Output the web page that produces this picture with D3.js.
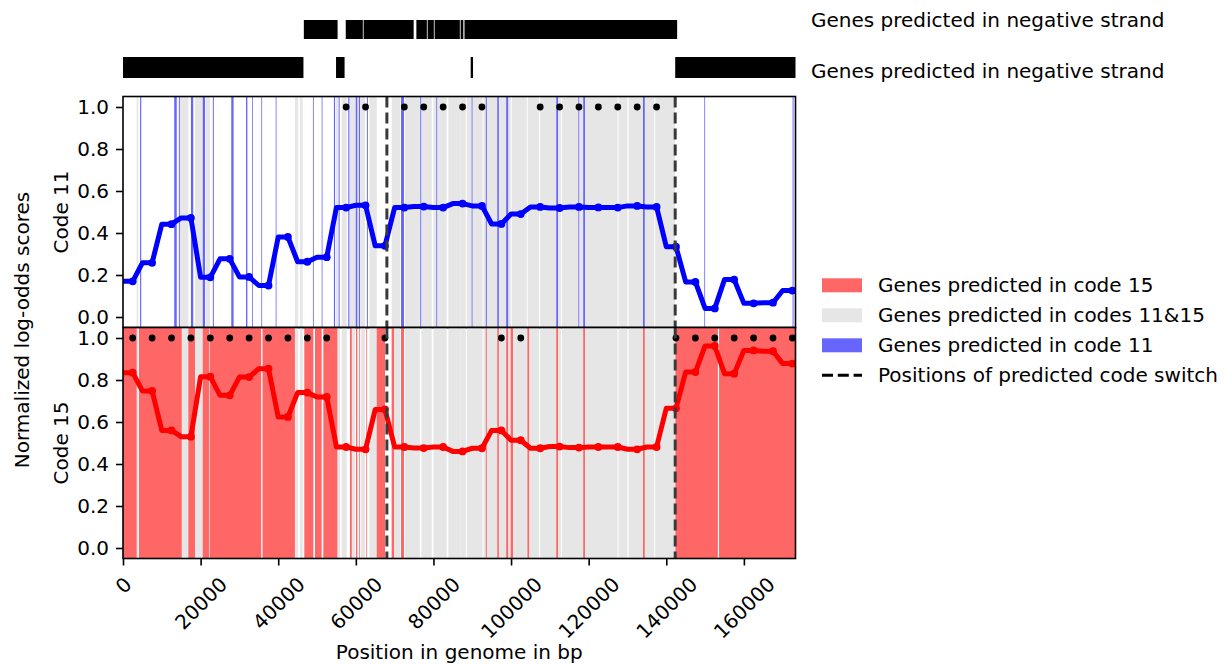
<!DOCTYPE html>
<html>
<head>
<meta charset="utf-8">
<script src="https://cdn.jsdelivr.net/npm/d3@7"></script>
<style>
  body { margin: 0; background: #ffffff; }
  svg { display: block; font-family: "DejaVu Sans", sans-serif; }
</style>
</head>
<body>
<script>
// ---------------- DATA ----------------
const genomeLength = 173300;
const windowCenters = [2500, 7500, 12500, 17500, 22500, 27500, 32500, 37500, 42500, 47500,
  52500, 57500, 62500, 67500, 72500, 77500, 82500, 87500, 92500, 97500,
  102500, 107500, 112500, 117500, 122500, 127500, 132500, 137500, 142500, 147500,
  152500, 157500, 162500, 167500, 172500];
const windowHalf = 2500;
const code11Scores = [0.170, 0.258, 0.442, 0.472, 0.189, 0.277, 0.191, 0.150, 0.381, 0.263,
  0.285, 0.521, 0.532, 0.339, 0.521, 0.526, 0.521, 0.540, 0.529, 0.443,
  0.490, 0.524, 0.519, 0.524, 0.522, 0.521, 0.529, 0.524, 0.335, 0.167,
  0.041, 0.178, 0.065, 0.068, 0.126];
const code15Scores = [0.835, 0.748, 0.560, 0.530, 0.816, 0.727, 0.814, 0.854, 0.624, 0.740,
  0.719, 0.481, 0.470, 0.660, 0.481, 0.476, 0.481, 0.460, 0.475, 0.560,
  0.513, 0.475, 0.483, 0.478, 0.481, 0.481, 0.470, 0.481, 0.665, 0.838,
  0.962, 0.830, 0.941, 0.937, 0.878];
const predictedCode = [15, 15, 15, 15, 15, 15, 15, 15, 15, 15, 15, 11, 11, 15, 11, 11, 11, 11, 11, 15,
  15, 11, 11, 11, 11, 11, 11, 11, 15, 15, 15, 15, 15, 15, 15];
const switchPositions = [68000, 142300];

const genesBoth = [[3500, 3950], [14650, 16850], [18550, 20540], [21390, 22420], [44300, 45150],
  [45600, 46300], [54900, 55900], [56350, 57650], [58500, 59800], [61250, 62350], [63500, 65400],
  [69250, 71400], [72650, 76500], [76900, 79550], [80000, 83400], [83850, 86850], [86900, 88350],
  [88600, 92650], [92900, 99950], [100200, 104050], [104300, 107250], [107500, 112850],
  [113100, 127450], [127700, 130000], [130300, 136900], [137150, 142300]];
const genesCode11 = [[4400, 4700], [13200, 13850], [14400, 14650], [17500, 18100], [20550, 21150],
  [23150, 23400], [27900, 28500], [31700, 32050], [33300, 33500], [35650, 35850], [39350, 39550],
  [48950, 49150], [51200, 51400], [54350, 54650], [55600, 55800], [58050, 58350], [59950, 60400],
  [60750, 61100], [62850, 63100], [71650, 72400], [76600, 76850], [80750, 80950], [89850, 90050],
  [93500, 93750], [96450, 96850], [98750, 99250], [111650, 112100], [117350, 117550],
  [118600, 119050], [134000, 134450], [149800, 150000], [172550, 172800]];
const genesCode15 = [[0, 3530], [4120, 15130], [16830, 18550], [20540, 22150], [22350, 35600],
  [35950, 44300], [46720, 49040], [49480, 51200], [51620, 55230], [58500, 58940], [60050, 60380],
  [60800, 61000], [62700, 62900], [65380, 67520], [69240, 69840], [71640, 72410], [93500, 93750],
  [96450, 96850], [98750, 99250], [99900, 100500], [104200, 104650], [111650, 112100],
  [118600, 119050], [134000, 134450], [142350, 153300], [153600, 173300]];
const strandRowA = [[46600, 55300], [57400, 61800], [62000, 74900], [75600, 78300], [78500, 80100],
  [80300, 86800], [87000, 87700], [88000, 142800]];
const strandRowB = [[0, 46500], [54900, 57100], [89600, 90200], [142300, 173300]];

const xTicks = [0, 20000, 40000, 60000, 80000, 100000, 120000, 140000, 160000];
const yTicks = [0.0, 0.2, 0.4, 0.6, 0.8, 1.0];
const stripLabels = ["Genes predicted in negative strand", "Genes predicted in negative strand"];
const panelLabels = ["Code 11", "Code 15"];
const legendLabels = ["Genes predicted in code 15", "Genes predicted in codes 11&15",
  "Genes predicted in code 11", "Positions of predicted code switch"];

// ---------------- STYLE ----------------
const W = 1230, H = 664;
const FS = 20;
const colRed = "#ff6666", colGray = "#e6e6e6", colBlue = "#6666ff";
const left = 123, right = 795.5;

const svg = d3.select("body").append("svg").attr("width", W).attr("height", H);
svg.append("rect").attr("width", W).attr("height", H).attr("fill", "#fff");

const x = d3.scaleLinear().domain([0, genomeLength]).range([left, right]);

// ---------- strand strips ----------
const strips = [{ genes: strandRowA, y0: 20, y1: 39, ly: 27 }, { genes: strandRowB, y0: 57, y1: 78, ly: 78 }];
strips.forEach((s, i) => {
  const g = svg.append("g");
  g.selectAll("rect").data(s.genes).join("rect")
    .attr("x", d => x(d[0])).attr("width", d => Math.max(0.8, x(d[1]) - x(d[0])))
    .attr("y", s.y0).attr("height", s.y1 - s.y0).attr("fill", "#000");
  svg.append("text").attr("x", 811).attr("y", s.ly).attr("font-size", FS).attr("fill", "#000")
    .text(stripLabels[i]);
});

// ---------- panels ----------
const panels = [
  { top: 96.5, bottom: 327.5, scores: code11Scores, line: "#0000ff", code: 11,
    layers: [[genesBoth, colGray], [genesCode11, colBlue]], label: panelLabels[0] },
  { top: 327.5, bottom: 558.5, scores: code15Scores, line: "#ff0000", code: 15,
    layers: [[genesBoth, colGray], [genesCode15, colRed]], label: panelLabels[1] }
];

panels.forEach((p, pi) => {
  const y = d3.scaleLinear().domain([-0.05, 1.05]).range([p.bottom, p.top]);
  const clipId = "clip" + pi;
  svg.append("clipPath").attr("id", clipId).append("rect")
    .attr("x", left).attr("y", p.top).attr("width", right - left).attr("height", p.bottom - p.top);
  const g = svg.append("g").attr("clip-path", `url(#${clipId})`);

  p.layers.forEach(([spans, col]) => {
    g.append("g").selectAll("rect").data(spans).join("rect")
      .attr("x", d => x(d[0])).attr("width", d => x(d[1]) - x(d[0]))
      .attr("y", p.top).attr("height", p.bottom - p.top).attr("fill", col);
  });

  // score line: flat over each window's first half, then ramps to the next window
  const pts = [];
  windowCenters.forEach((c, i) => { pts.push([c - windowHalf, p.scores[i]]); pts.push([c, p.scores[i]]); });
  const line = d3.line().x(d => x(d[0])).y(d => y(d[1]));
  g.append("path").datum(pts).attr("d", line).attr("fill", "none")
    .attr("stroke", p.line).attr("stroke-width", 5).attr("stroke-linejoin", "round");
  g.append("g").selectAll("circle").data(windowCenters).join("circle")
    .attr("cx", d => x(d)).attr("cy", (d, i) => y(p.scores[i])).attr("r", 3.9).attr("fill", p.line);

  // predicted-code dots at 1.0
  const called = windowCenters.filter((c, i) => predictedCode[i] === p.code);
  g.append("g").selectAll("circle").data(called).join("circle")
    .attr("cx", d => x(d)).attr("cy", y(1.0)).attr("r", 3.4).attr("fill", "#000");

  // code switch lines
  g.append("g").selectAll("line").data(switchPositions).join("line")
    .attr("x1", d => x(d)).attr("x2", d => x(d)).attr("y1", p.top).attr("y2", p.bottom)
    .attr("stroke", "#3a3a3a").attr("stroke-width", 3).attr("stroke-dasharray", "11 5");

  // y axis
  const ax = svg.append("g").attr("transform", `translate(${left},0)`)
    .call(d3.axisLeft(y).tickValues(yTicks).tickFormat(d3.format(".1f")).tickSize(7).tickPadding(7));
  ax.select(".domain").remove();
  ax.selectAll("line").attr("stroke", "#000").attr("stroke-width", 1.6);
  ax.selectAll("text").attr("font-size", FS).attr("font-family", "DejaVu Sans").attr("fill", "#000");

  // frame
  svg.append("rect").attr("x", left).attr("y", p.top).attr("width", right - left)
    .attr("height", p.bottom - p.top).attr("fill", "none").attr("stroke", "#000").attr("stroke-width", 1.6);

  svg.append("text").attr("transform", `translate(68.3,${(p.top + p.bottom) / 2}) rotate(-90)`)
    .attr("text-anchor", "middle").attr("font-size", FS).text(p.label);
});

// x axis
const xa = svg.append("g").attr("transform", "translate(0,558.5)")
  .call(d3.axisBottom(x).tickValues(xTicks).tickSize(7).tickFormat(d => String(d)));
xa.select(".domain").remove();
xa.selectAll("line").attr("stroke", "#000").attr("stroke-width", 1.6);
xa.selectAll("text").each(function () {
  const t = d3.select(this);
  t.attr("font-size", FS).attr("font-family", "DejaVu Sans").attr("fill", "#000");
  const w = this.getComputedTextLength();
  const h = (w + FS * 1.16) * Math.SQRT1_2;
  t.attr("y", null).attr("dy", null)
    .attr("dominant-baseline", "central").attr("text-anchor", "middle")
    .attr("transform", `translate(0,${14 + h / 2}) rotate(-45)`);
});

svg.append("text").attr("x", (left + right) / 2).attr("y", 659).attr("text-anchor", "middle")
  .attr("font-size", FS).text("Position in genome in bp");
svg.append("text").attr("transform", "translate(29,330) rotate(-90)").attr("text-anchor", "middle")
  .attr("font-size", FS).text("Normalized log-odds scores");

// legend
const lg = svg.append("g");
const legendKinds = [colRed, colGray, colBlue, "dash"];
legendKinds.forEach((k, i) => {
  const cy = 285.3 + i * 30;
  if (k === "dash") {
    lg.append("line").attr("x1", 822).attr("x2", 862).attr("y1", cy).attr("y2", cy)
      .attr("stroke", "#000").attr("stroke-width", 3).attr("stroke-dasharray", "11 4.8");
  } else {
    lg.append("rect").attr("x", 822).attr("y", cy - 7).attr("width", 40).attr("height", 14).attr("fill", k);
  }
  lg.append("text").attr("x", 878).attr("y", cy + 7).attr("font-size", FS).text(legendLabels[i]);
});
</script>
</body>
</html>
